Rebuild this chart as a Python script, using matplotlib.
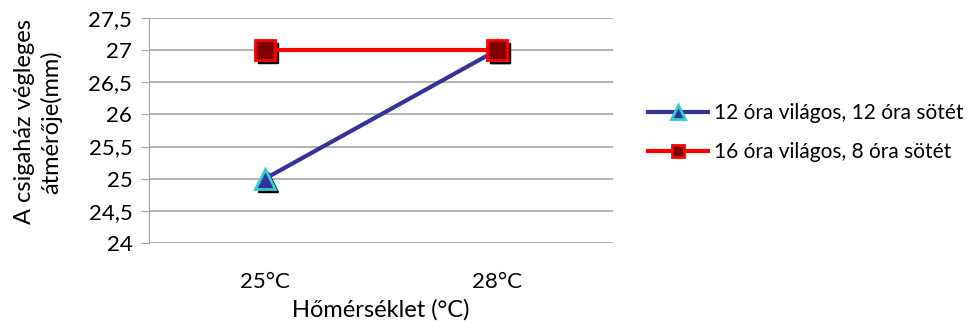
import matplotlib
matplotlib.use("Agg")
import matplotlib.pyplot as plt
from matplotlib.transforms import ScaledTranslation

plt.rcParams['font.family'] = ['Lato', 'DejaVu Sans']

categories = ['25°C', '28°C']
series_names = ['12 óra világos, 12 óra sötét', '16 óra világos, 8 óra sötét']
values_12_12 = [25, 27]
values_16_8 = [27, 27]
yticks = [24, 24.5, 25, 25.5, 26, 26.5, 27, 27.5]
ytick_labels = ['24', '24,5', '25', '25,5', '26', '26,5', '27', '27,5']

fig = plt.figure(figsize=(9.71, 3.29), dpi=100)
ax = fig.add_axes([149 / 971, (329 - 243) / 329, (613 - 149) / 971, (243 - 18) / 329])

x = list(range(len(categories)))
shadow = ScaledTranslation(3 / 100, -3 / 100, fig.dpi_scale_trans)

# black drop shadows behind the markers
ax.plot(x, values_12_12, ls='none', marker='^', ms=15, color='black',
        transform=ax.transData + shadow, zorder=3)
ax.plot(x, values_16_8, ls='none', marker='s', ms=14, color='black',
        transform=ax.transData + shadow, zorder=3)

ax.plot(x, values_12_12, color='#333399', lw=3, marker='^', ms=15,
        mfc='#333399', mec='#33CCCC', mew=2, zorder=4, label=series_names[0])
ax.plot(x, values_16_8, color='#FF0000', lw=3, marker='s', ms=14,
        mfc='#7F0000', mec='#FF0000', mew=2, zorder=5, label=series_names[1])

ax.set_xlim(-0.5, len(categories) - 0.5)
ax.set_ylim(24, 27.5)
ax.set_xticks(x)
ax.set_xticklabels(categories, fontsize=16)
ax.set_yticks(yticks)
ax.set_yticklabels(ytick_labels, fontsize=16)
ax.tick_params(axis='x', length=0, pad=21)
ax.tick_params(axis='y', length=6, color='#A0A0A0', pad=6)
ax.yaxis.grid(True, color='#A6A6A6', lw=1.2)
ax.set_axisbelow(True)
for s in ['top', 'right', 'bottom']:
    ax.spines[s].set_visible(False)
ax.spines['left'].set_color('#A0A0A0')

ax.set_xlabel('Hőmérséklet (°C)', fontsize=17, labelpad=5)
fig.text(38 / 971, (329 - 122) / 329, 'A csigaház végleges\nátmérője(mm)',
         rotation=90, fontsize=17, ha='center', va='center',
         multialignment='center', linespacing=1.3)

ax.legend(loc='center left', bbox_to_anchor=(1.035, 0.49), frameon=False,
          fontsize=15, handlelength=2.9, handletextpad=0.25, labelspacing=0.9,
          markerscale=0.65)

fig.savefig('out.png', dpi=100)
